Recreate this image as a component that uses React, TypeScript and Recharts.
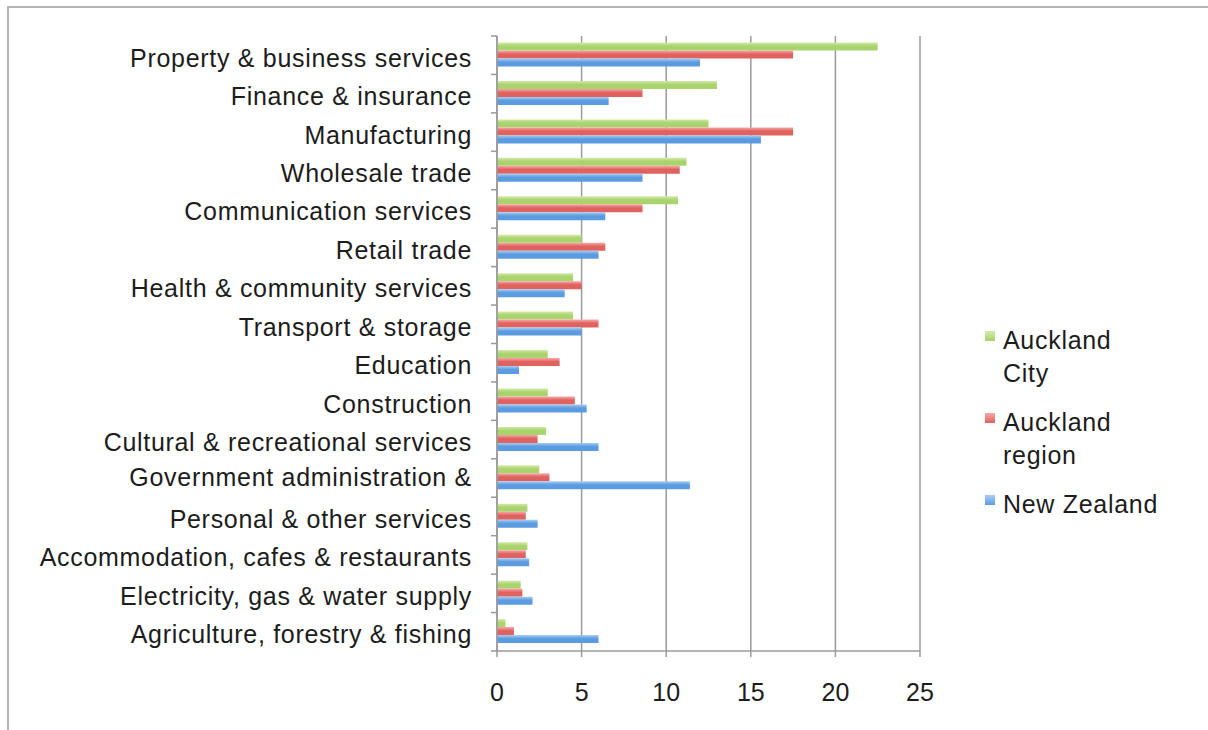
import { Bar, BarChart, CartesianGrid, Legend, XAxis, YAxis } from "recharts";

const categories = [
  "Property & business services",
  "Finance & insurance",
  "Manufacturing",
  "Wholesale trade",
  "Communication services",
  "Retail trade",
  "Health & community services",
  "Transport & storage",
  "Education",
  "Construction",
  "Cultural & recreational services",
  "Government administration &",
  "Personal & other services",
  "Accommodation, cafes & restaurants",
  "Electricity, gas & water supply",
  "Agriculture, forestry & fishing",
];

const aucklandCity = [22.5, 13.0, 12.5, 11.2, 10.7, 5.0, 4.5, 4.5, 3.0, 3.0, 2.9, 2.5, 1.8, 1.8, 1.4, 0.5];
const aucklandRegion = [17.5, 8.6, 17.5, 10.8, 8.6, 6.4, 5.0, 6.0, 3.7, 4.6, 2.4, 3.1, 1.7, 1.7, 1.5, 1.0];
const newZealand = [12.0, 6.6, 15.6, 8.6, 6.4, 6.0, 4.0, 5.0, 1.3, 5.3, 6.0, 11.4, 2.4, 1.9, 2.1, 6.0];

const xTicks = [0, 5, 10, 15, 20, 25];

const seriesNames = ["Auckland City", "Auckland region", "New Zealand"];
const seriesKeys = ["city", "region", "nz"];
const seriesColors = ["#a9d36d", "#e0625f", "#5b9be0"];
const seriesLight = ["#d3eaa9", "#f5aaa7", "#a8cdf4"];

const data = categories.map((name, i) => ({
  name,
  city: aucklandCity[i],
  region: aucklandRegion[i],
  nz: newZealand[i],
}));

const W = 1208;
const H = 730;
const PLOT_LEFT = 497;
const PLOT_RIGHT = 920;
const PLOT_TOP = 36;
const PLOT_BOTTOM = 651;
const X_AXIS_H = 60;
const BAND = (PLOT_BOTTOM - PLOT_TOP) / categories.length;

const FONT = '"Liberation Sans", Arial, Helvetica, sans-serif';
const AXIS_GREY = "#9a9a9a";

function YTick(props: any) {
  const { y, payload, index } = props;
  const half = BAND / 2;
  const shift = payload.value.startsWith("Government") ? -4 : 0;
  return (
    <g>
      <line x1={PLOT_LEFT - 6} x2={PLOT_LEFT} y1={y - half} y2={y - half} stroke={AXIS_GREY} strokeWidth={1.5} />
      {index === categories.length - 1 && (
        <line x1={PLOT_LEFT - 6} x2={PLOT_LEFT} y1={y + half} y2={y + half} stroke={AXIS_GREY} strokeWidth={1.5} />
      )}
      <text
        x={PLOT_LEFT - 25}
        y={y + 11.5 + shift}
        textAnchor="end"
        fontFamily={FONT}
        fontSize={25}
        letterSpacing={0.7}
        fill="#1c1c1c"
      >
        {payload.value}
      </text>
    </g>
  );
}

function LegendBox() {
  return (
    <div style={{ fontFamily: FONT, fontSize: 25, letterSpacing: 0.7, color: "#1c1c1c", textAlign: "left" }}>
      {seriesNames.map((name, i) => (
        <div key={name} style={{ display: "flex", alignItems: "flex-start", marginBottom: 16 }}>
          <div
            style={{
              width: 10,
              height: 10,
              marginTop: 7,
              marginRight: 8,
              background: `linear-gradient(${seriesLight[i]}, ${seriesColors[i]})`,
              flex: "none",
            }}
          />
          <div style={{ width: 158, lineHeight: "33px" }}>{name}</div>
        </div>
      ))}
    </div>
  );
}

export default function App() {
  return (
    <div style={{ position: "absolute", left: 0, top: 0, width: W, height: H, background: "#fff" }}>
      <div
        style={{
          position: "absolute",
          left: 7,
          top: 6,
          width: W - 7,
          height: H - 6,
          borderTop: "2px solid #b4b4b4",
          borderLeft: "2px solid #b4b4b4",
          boxSizing: "border-box",
        }}
      />
      <div style={{ position: "absolute", left: 0, top: 0 }}>
        <BarChart
          width={W}
          height={H}
          data={data}
          layout="vertical"
          margin={{ top: PLOT_TOP, right: W - PLOT_RIGHT, bottom: H - PLOT_BOTTOM - X_AXIS_H, left: 0 }}
          barCategoryGap="17%"
          barGap={0}
        >
          <defs>
            {seriesKeys.map((k, i) => (
              <linearGradient key={k} id={`grad-${k}`} x1="0" y1="0" x2="0" y2="1">
                <stop offset="0%" stopColor={seriesLight[i]} />
                <stop offset="45%" stopColor={seriesColors[i]} />
                <stop offset="100%" stopColor={seriesColors[i]} />
              </linearGradient>
            ))}
          </defs>
          <CartesianGrid horizontal={false} stroke={AXIS_GREY} strokeWidth={1.5} />
          <XAxis
            type="number"
            domain={[0, 25]}
            ticks={xTicks}
            height={X_AXIS_H}
            stroke={AXIS_GREY}
            strokeWidth={1.5}
            tickSize={6}
            tickMargin={26}
            tick={{ fontFamily: FONT, fontSize: 25, fill: "#1c1c1c" }}
          />
          <YAxis
            type="category"
            dataKey="name"
            width={PLOT_LEFT}
            stroke={AXIS_GREY}
            strokeWidth={1.5}
            tickLine={false}
            interval={0}
            tick={<YTick />}
          />
          <Legend
            layout="horizontal"
            verticalAlign="middle"
            align="center"
            content={() => <LegendBox />}
            wrapperStyle={{ left: 985, top: 324, width: 220 }}
          />
          {seriesKeys.map((k, i) => (
            <Bar key={k} dataKey={k} name={seriesNames[i]} fill={`url(#grad-${k})`} isAnimationActive={false} />
          ))}
        </BarChart>
      </div>
    </div>
  );
}
